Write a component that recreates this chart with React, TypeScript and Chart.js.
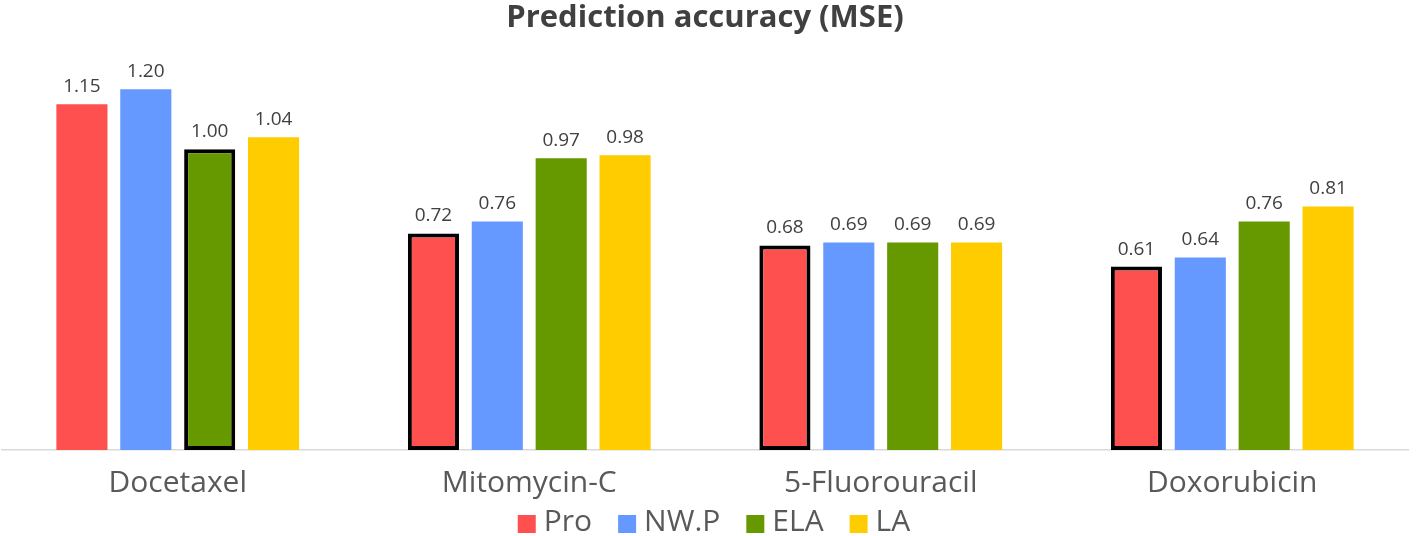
import React, { useEffect, useRef } from "react";
import { Chart, registerables } from "chart.js";

Chart.register(...registerables);

const categories = ["Docetaxel", "Mitomycin-C", "5-Fluorouracil", "Doxorubicin"];
const seriesNames = ["Pro", "NW.P", "ELA", "LA"];
const proValues = [1.15, 0.72, 0.68, 0.61];
const nwpValues = [1.2, 0.76, 0.69, 0.64];
const elaValues = [1.0, 0.97, 0.69, 0.76];
const laValues = [1.04, 0.98, 0.69, 0.81];
const seriesColors = ["#FF5050", "#6699FF", "#669900", "#FFCC00"];
// index of the series highlighted (lowest MSE) for each category
const bestSeries = [2, 0, 0, 0];

const FONT = "'Open Sans', 'Noto Sans', sans-serif";

const valueLabels = {
  id: "valueLabels",
  afterDatasetsDraw(chart: any) {
    const ctx = chart.ctx;
    ctx.save();
    ctx.font = `19px ${FONT}`;
    ctx.fillStyle = "#404040";
    ctx.textAlign = "center";
    ctx.textBaseline = "bottom";
    chart.data.datasets.forEach((ds: any, di: number) => {
      const meta = chart.getDatasetMeta(di);
      meta.data.forEach((bar: any, i: number) => {
        ctx.fillText(Number(ds.data[i]).toFixed(2), bar.x, bar.y - 8);
      });
    });
    ctx.restore();
  },
};

const bottomLegend = {
  id: "bottomLegend",
  afterDraw(chart: any) {
    const ctx = chart.ctx;
    ctx.save();
    ctx.font = `30px ${FONT}`;
    ctx.textBaseline = "middle";
    ctx.textAlign = "left";
    const box = 18, gapText = 8, gapItem = 26;
    const items = chart.data.datasets.map((ds: any) => ({
      label: ds.label,
      color: ds.backgroundColor,
      w: ctx.measureText(ds.label).width,
    }));
    const total =
      items.reduce((s: number, it: any) => s + box + gapText + it.w, 0) +
      gapItem * (items.length - 1);
    let x = 714 - total / 2;
    const yc = 522;
    items.forEach((it: any) => {
      ctx.fillStyle = it.color;
      ctx.fillRect(x, yc - box / 2 + 2, box, box);
      x += box + gapText;
      ctx.fillStyle = "#595959";
      ctx.fillText(it.label, x, yc);
      x += it.w + gapItem;
    });
    ctx.restore();
  },
};

export default function App() {
  const ref = useRef<HTMLCanvasElement>(null);
  useEffect(() => {
    const all = [proValues, nwpValues, elaValues, laValues];
    const chart = new Chart(ref.current!, {
      type: "bar",
      data: {
        labels: categories,
        datasets: all.map((vals, si) => ({
          label: seriesNames[si],
          data: vals,
          backgroundColor: seriesColors[si],
          borderColor: "#000000",
          borderWidth: (c: any) =>
            c.type === "data" && bestSeries[c.dataIndex] === si ? 4 : 0,
          borderSkipped: false,
        })),
      },
      options: {
        animation: false,
        responsive: false,
        maintainAspectRatio: false,
        layout: { padding: { left: 2, right: 8, top: 0, bottom: 28 } },
        datasets: { bar: { categoryPercentage: 0.727, barPercentage: 0.8 } },
        scales: {
          x: {
            grid: { display: false },
            border: { display: true, color: "#D9D9D9", width: 1.5 },
            ticks: { color: "#595959", font: { family: FONT, size: 30 }, padding: 7 },
          },
          y: { display: false, min: 0, max: 1.373 },
        },
        plugins: {
          title: {
            display: true,
            text: "Prediction accuracy (MSE)",
            color: "#404040",
            font: { family: FONT, size: 31, weight: "bold" },
            padding: { top: 0, bottom: 0 },
          },
          legend: { display: false },
          tooltip: { enabled: false },
        },
      },
      plugins: [valueLabels, bottomLegend],
    });
    return () => chart.destroy();
  }, []);
  return (
    <div style={{ position: "fixed", left: 0, top: 0, width: 1416, height: 536, background: "#fff" }}>
      <canvas ref={ref} width={1416} height={536} style={{ display: "block" }} />
    </div>
  );
}
